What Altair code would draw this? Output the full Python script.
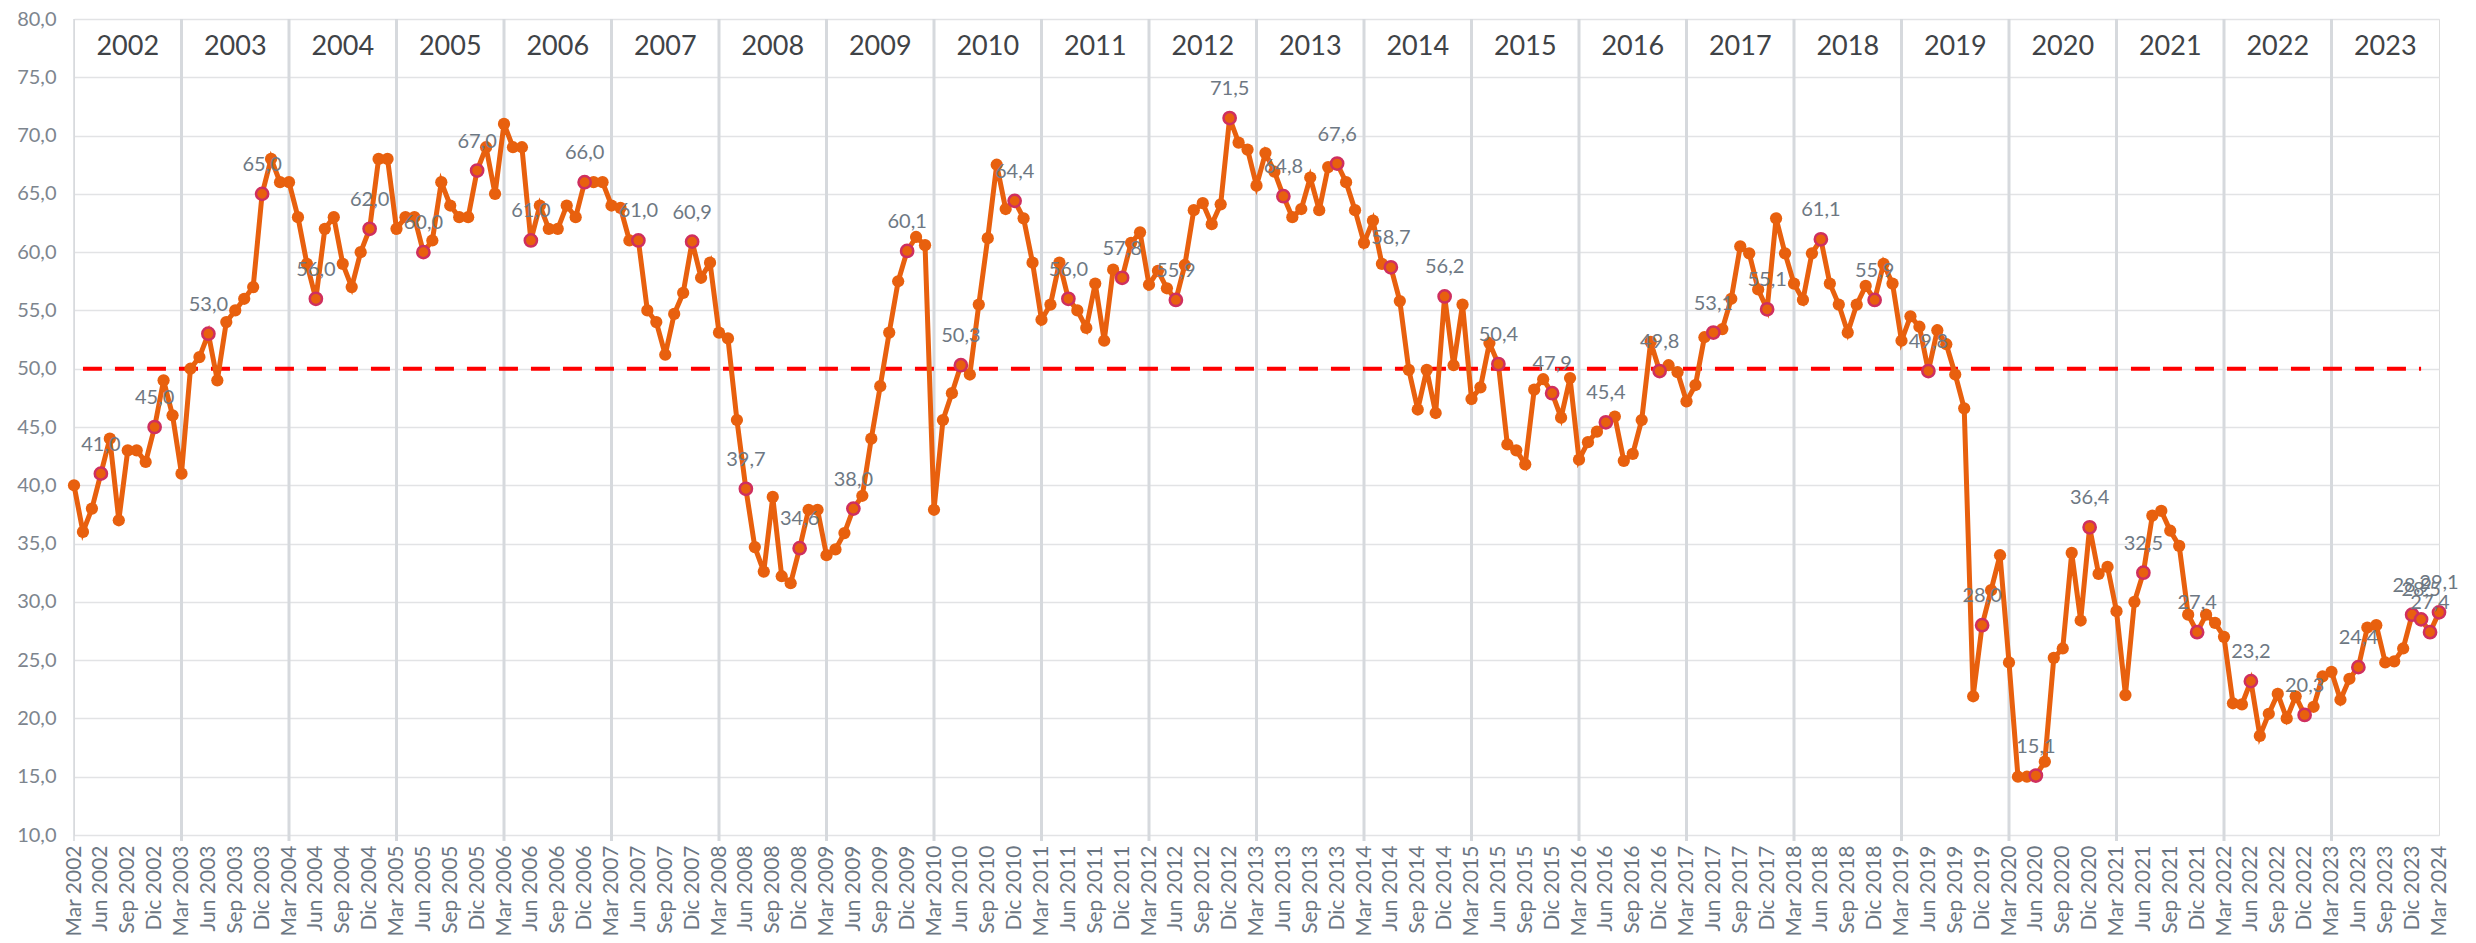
import json
import altair as alt
import pandas as pd

# ---------------- data ----------------
months = ["Ene", "Feb", "Mar", "Abr", "May", "Jun", "Jul", "Ago", "Sep", "Oct", "Nov", "Dic"]

y2002 = [40, 36, 38, 41, 44, 37, 43, 43, 42, 45]  # Mar..Dic
y2003 = [49, 46, 41, 50, 51, 53, 49, 54, 55, 56, 57, 65]
y2004 = [68, 66, 66, 63, 59, 56, 62, 63, 59, 57, 60, 62]
y2005 = [68, 68, 62, 63, 63, 60, 61, 66, 64, 63, 63, 67]
y2006 = [69, 65, 71, 69, 69, 61, 64, 62, 62, 64, 63, 66]
y2007 = [66, 66, 64, 63.8, 61, 61, 55, 54, 51.2, 54.7, 56.5, 60.9]
y2008 = [57.8, 59.1, 53.1, 52.6, 45.6, 39.7, 34.7, 32.6, 39.0, 32.2, 31.6, 34.6]
y2009 = [37.9, 37.9, 34.0, 34.5, 35.9, 38.0, 39.1, 44.0, 48.5, 53.1, 57.5, 60.1]
y2010 = [61.3, 60.6, 37.9, 45.6, 47.9, 50.3, 49.5, 55.5, 61.2, 67.5, 63.7, 64.4]
y2011 = [62.9, 59.1, 54.2, 55.5, 59.1, 56.0, 55.0, 53.5, 57.3, 52.4, 58.5, 57.8]
y2012 = [60.8, 61.7, 57.2, 58.4, 56.9, 55.9, 58.9, 63.6, 64.2, 62.4, 64.1, 71.5]
y2013 = [69.4, 68.8, 65.7, 68.5, 66.9, 64.8, 63.0, 63.7, 66.4, 63.6, 67.3, 67.6]
y2014 = [66.0, 63.6, 60.8, 62.7, 59.0, 58.7, 55.8, 49.9, 46.5, 49.9, 46.2, 56.2]
y2015 = [50.3, 55.5, 47.4, 48.4, 52.2, 50.4, 43.5, 43.0, 41.8, 48.2, 49.1, 47.9]
y2016 = [45.8, 49.2, 42.2, 43.7, 44.6, 45.4, 45.9, 42.1, 42.7, 45.6, 52.3, 49.8]
y2017 = [50.3, 49.7, 47.2, 48.6, 52.7, 53.1, 53.4, 56.0, 60.5, 59.9, 56.8, 55.1]
y2018 = [62.9, 59.9, 57.3, 55.9, 59.9, 61.1, 57.3, 55.5, 53.1, 55.5, 57.1, 55.9]
y2019 = [59.0, 57.3, 52.4, 54.5, 53.6, 49.8, 53.3, 52.1, 49.5, 46.6, 21.9, 28.0]
y2020 = [31.0, 34.0, 24.8, 15.0, 15.0, 15.1, 16.3, 25.2, 26.0, 34.2, 28.4, 36.4]
y2021 = [32.4, 33.0, 29.2, 22.0, 30.0, 32.5, 37.4, 37.8, 36.1, 34.8, 28.9, 27.4]
y2022 = [28.9, 28.2, 27.0, 21.3, 21.2, 23.2, 18.5, 20.4, 22.1, 20.0, 21.9, 20.3]
y2023 = [21.0, 23.6, 24.0, 21.6, 23.4, 24.4, 27.8, 28.0, 24.8, 24.9, 26.0, 28.9]
y2024 = [28.5, 27.4, 29.1]  # Ene..Mar

series = [(2002, 3, y2002), (2003, 1, y2003), (2004, 1, y2004), (2005, 1, y2005),
          (2006, 1, y2006), (2007, 1, y2007), (2008, 1, y2008), (2009, 1, y2009),
          (2010, 1, y2010), (2011, 1, y2011), (2012, 1, y2012), (2013, 1, y2013),
          (2014, 1, y2014), (2015, 1, y2015), (2016, 1, y2016), (2017, 1, y2017),
          (2018, 1, y2018), (2019, 1, y2019), (2020, 1, y2020), (2021, 1, y2021),
          (2022, 1, y2022), (2023, 1, y2023), (2024, 1, y2024)]

threshold = 50
header_years = list(range(2002, 2024))

# ---------------- tables ----------------
rows = []
for year, start, vals in series:
    for k, v in enumerate(vals):
        m = start + k
        idx = (year - 2002) * 12 + (m - 3)
        rows.append(dict(idx=idx, value=v,
                         hl=(m in (6, 12)) or year == 2024,
                         label=f"{v:.1f}".replace(".", ",")))
df = pd.DataFrame(rows)
last_idx = int(df["idx"].max())

tick_vals = list(range(0, last_idx + 1, 3))
tick_labels = [f"{months[(i + 2) % 12]} {2002 + (i + 2) // 12}" for i in tick_vals]
label_expr = json.dumps(tick_labels) + "[round(datum.value / 3)]"

years_df = pd.DataFrame({"year": [str(y) for y in header_years],
                         "idx": [(y - 2002) * 12 + 6 for y in header_years],
                         "value": [77.6] * len(header_years)})
yearlines_df = pd.DataFrame({"idx": [(y - 2002) * 12 for y in header_years[1:]]})
thr_df = pd.DataFrame({"idx": [1], "idx2": [last_idx - 2], "value": [threshold]})

# ---------------- chart ----------------
ORANGE = "#E8600E"
FONT = "Lato"
H = 816

xs = alt.Scale(domain=[0, last_idx], nice=False, zero=False)
ys = alt.Scale(domain=[10, 80], nice=False, zero=False)

x_axis = alt.Axis(values=tick_vals, labelExpr=label_expr, labelAngle=-90,
                  labelFontSize=21, labelColor="#6b7682", labelFont=FONT,
                  grid=False, ticks=False, domain=False, labelPadding=10,
                  title=None, labelOverlap=False, labelBound=False, labelFlush=False)
y_axis = alt.Axis(values=list(range(10, 81, 5)),
                  labelExpr="replace(format(datum.value, '.1f'), '.', ',')",
                  labelFontSize=20, labelColor="#7d858e", labelFont=FONT,
                  grid=True, gridColor="#e2e3e5", gridWidth=1.5,
                  ticks=False, domain=False, labelPadding=18, title=None)

X = alt.X("idx:Q", scale=xs, axis=x_axis, title=None)
Y = alt.Y("value:Q", scale=ys, axis=y_axis, title=None)

base = alt.Chart(df)

yearlines = alt.Chart(yearlines_df).mark_rule(color="#d6d9dd", strokeWidth=3).encode(
    x=X, y=alt.value(0), y2=alt.value(H + 6))

leftline = alt.Chart(pd.DataFrame({"idx": [0]})).mark_rule(color="#d6d9dd", strokeWidth=1.5).encode(
    x=X, y=alt.value(0), y2=alt.value(H + 6))

thr = alt.Chart(thr_df).mark_rule(color="#ff0000", strokeWidth=4, strokeDash=[19, 13]).encode(
    x=X, x2="idx2:Q", y=Y)

line = base.mark_line(color=ORANGE, strokeWidth=5).encode(x=X, y=Y)

pts = base.transform_filter("!datum.hl").mark_circle(color=ORANGE, size=150, opacity=1).encode(
    x=X, y=Y)

hl_pts = base.transform_filter("datum.hl").mark_circle(
    color=ORANGE, size=150, opacity=1, stroke="#cf2f5f", strokeWidth=2.5).encode(x=X, y=Y)

labels = base.transform_filter("datum.hl").mark_text(
    font=FONT, fontSize=20, color="#6e7883", baseline="middle", align="center", dy=-29).encode(
    x=X, y=Y, text="label:N")

year_text = alt.Chart(years_df).mark_text(
    font=FONT, fontSize=27, color="#3f4347", baseline="middle", align="center").encode(
    x=X, y=Y, text="year:N")

chart = alt.layer(yearlines, leftline, thr, line, pts, hl_pts, labels, year_text).properties(
    width=2365, height=H,
    autosize=alt.AutoSizeParams(type="none"),
    padding={"left": 66, "top": 11, "right": 29, "bottom": 100},
).configure_view(stroke=None).configure(background="white")

chart.save("out.html", embed_options={"renderer": "svg", "actions": False})
